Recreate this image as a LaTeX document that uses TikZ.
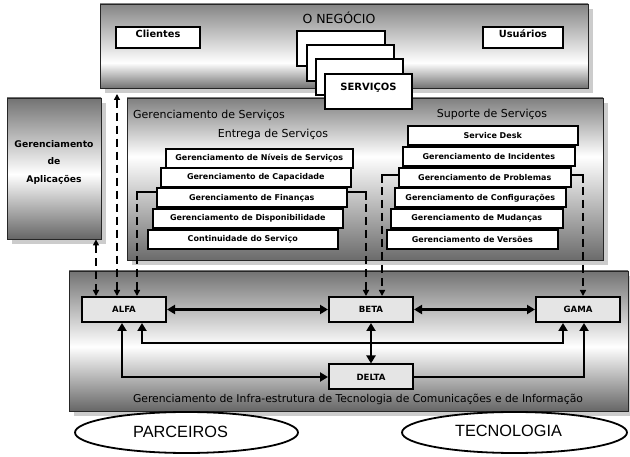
\documentclass[tikz,border=0pt]{standalone}
\usepackage{fontspec}
\setmainfont{DejaVu Sans}
\newfontfamily\tah{DejaVu Sans}
\newfontfamily\ari{Liberation Sans}
\usetikzlibrary{arrows.meta,fit,shapes.geometric}
\pgfdeclareverticalshading{shTop}{100bp}{color(0bp)=(black!55); color(25bp)=(black!55); color(40bp)=(white); color(75bp)=(black!48); color(100bp)=(black!48)}
\pgfdeclareverticalshading{shMid}{100bp}{color(0bp)=(black!58); color(25bp)=(black!58); color(57bp)=(white); color(75bp)=(black!50); color(100bp)=(black!50)}
\pgfdeclareverticalshading{shHalf}{100bp}{color(0bp)=(black!60); color(25bp)=(black!60); color(48bp)=(white); color(75bp)=(black!55); color(100bp)=(black!55)}
\definecolor{shadowc}{gray}{0.8}
\begin{document}
\begin{tikzpicture}[x=1pt,y=-1pt,
  bigbox/.style={draw=black!85,line width=0.9pt,inner sep=0pt},
  wbox/.style={draw=black,fill=white,line width=1.6pt,inner sep=0pt},
  stk/.style={wbox,anchor=north west,minimum height=19pt,font=\tah\bfseries\fontsize{8}{9}\selectfont},
  gbox/.style={draw=black,fill=black!10,line width=2pt,inner sep=0pt,anchor=north west,minimum width=84pt,minimum height=25pt,font=\tah\bfseries\fontsize{8.6}{10}\selectfont},
  ttl/.style={font=\tah\fontsize{11}{13}\selectfont,inner sep=0pt},
  arr/.style={line width=2.6pt,{Triangle[length=8pt,width=9pt]}-{Triangle[length=8pt,width=9pt]}},
  arrone/.style={line width=2.6pt,-{Triangle[length=8pt,width=9pt]}},
  dsh/.style={line width=2.2pt,dash pattern=on 8pt off 5pt},
  solidpart/.style={line width=2.2pt},
  tipd/.style={-{Triangle[length=6pt,width=6pt]}},
  ell/.style={ellipse,draw=black,fill=white,line width=1.8pt,inner sep=0pt},
  elltxt/.style={inner sep=0pt,font=\ari\fontsize{16.3}{19}\selectfont}
]
\useasboundingbox (0,0) rectangle (630,457);
% ---------- top box
\fill[shadowc] (105,9) rectangle (593,93);
\node[bigbox,shading=shTop,fit={(100,4) (588,88)}] (top) {};
\node[font=\tah\fontsize{12.5}{14}\selectfont,inner sep=0pt] (neg) at (339,18) {O NEGÓCIO};
\node[wbox,fit={(116,27) (200,48)},font=\tah\bfseries\fontsize{9.8}{11}\selectfont] (cli) {Clientes};
\node[wbox,fit={(483,27) (563,48)},font=\tah\bfseries\fontsize{9.8}{11}\selectfont] (usu) {Usuários};
% ---------- middle box
\fill[shadowc] (132,103) rectangle (608,265);
\node[bigbox,shading=shMid,fit={(127,98) (603,260)}] (mid) {};
\node[ttl,anchor=west] (gs) at (133,115) {Gerenciamento de Serviços};
\node[ttl] (es) at (273,134) {Entrega de Serviços};
\node[ttl] (ss) at (492,114) {Suporte de Serviços};
% services stack
\node[wbox,fit={(297,31) (385,66)}] (sv1) {};
\node[wbox,fit={(307,45) (394,81)}] (sv2) {};
\node[wbox,fit={(316,59) (403,95)}] (sv3) {};
\node[wbox,fit={(325,74) (412,109)},font=\tah\bfseries\fontsize{10}{11}\selectfont] (serv) {SERVIÇOS};
% ---------- aplicacoes
\fill[shadowc] (12,103) rectangle (106,244);
\node[bigbox,shading=shHalf,fit={(7,98) (101,239)}] (apl) {};
\node[font=\tah\bfseries\fontsize{9.2}{11}\selectfont,inner sep=0pt] (apl1) at (54,144) {Gerenciamento};
\node[font=\tah\bfseries\fontsize{9.2}{11}\selectfont,inner sep=0pt] (apl2) at (54,161) {de};
\node[font=\tah\bfseries\fontsize{9.2}{11}\selectfont,inner sep=0pt] (apl3) at (54,180) {Aplicações};
% left stack
\node[stk,minimum width=187pt] (l1) at (165,148) {Gerenciamento de Níveis de Serviços};
\node[stk,minimum width=190pt] (l2) at (160,167) {Gerenciamento de Capacidade};
\node[stk,minimum width=190pt] (l3) at (156,187.5) {Gerenciamento de Finanças};
\node[stk,minimum width=190pt] (l4) at (152,208) {Gerenciamento de Disponibilidade};
\node[stk,minimum width=190pt] (l5) at (147,229) {Continuidade do Serviço};
% right stack
\node[stk,minimum width=170pt] (r1) at (407,125) {Service Desk};
\node[stk,minimum width=172pt] (r2) at (402,146) {Gerenciamento de Incidentes};
\node[stk,minimum width=172pt] (r3) at (398,167) {Gerenciamento de Problemas};
\node[stk,minimum width=171pt] (r4) at (394,187.5) {Gerenciamento de Configurações};
\node[stk,minimum width=172pt] (r5) at (390,208) {Gerenciamento de Mudanças};
\node[stk,minimum width=171pt] (r6) at (386,229) {Gerenciamento de Versões};
% ---------- bottom box
\fill[shadowc] (74,276) rectangle (633,416);
\node[bigbox,shading=shHalf,fit={(69,271) (628,411)}] (bot) {};
\node[font=\tah\fontsize{10.8}{13}\selectfont,inner sep=0pt] (cap) at (358,399) {Gerenciamento de Infra-estrutura de Tecnologia de Comunicações e de Informação};
\node[gbox] (alfa) at (81,296) {ALFA};
\node[gbox] (beta) at (328,296) {BETA};
\node[gbox] (gama) at (535,296) {GAMA};
\node[gbox] (delta) at (328,363.5) {DELTA};
% ellipses
\node[ell,minimum width=223pt,minimum height=41pt] (par) at (186.5,432.5) {};
\node[elltxt] (partxt) at (180.5,431.5) {PARCEIROS};
\node[ell,minimum width=225pt,minimum height=41pt] (tec) at (514.5,432.5) {};
\node[elltxt] (tectxt) at (508.5,431) {TECNOLOGIA};
% ---------- connectors
\draw[arr] (alfa.east) -- (beta.west);
\draw[arr] (beta.east) -- (gama.west);
\draw[arr] (beta.south) -- (delta.north);
\draw[arr] (142,0 |- alfa.south) -- (142,343) -- (563,343) -- (563,0 |- gama.south);
\draw[arr] (122,0 |- alfa.south) |- (delta.west);
\draw[arrone] (delta.east) -| (584,0 |- gama.south);
% dashed links
\draw[dsh,{Triangle[length=6pt,width=6pt]}-{Triangle[length=6pt,width=6pt]}] (96,0 |- apl.south) -- (96,0 |- alfa.north);
\coordinate (topb) at (117,94);
\draw[dsh,{Triangle[length=6pt,width=6pt]}-{Triangle[length=6pt,width=6pt]}] (topb) -- (117,0 |- alfa.north);
% brackets
\draw[solidpart] (l3.west |- 0,192) -- (137,192) -- (137,200);
\draw[dsh,tipd] (137,204) -- (137,0 |- alfa.north);
\draw[solidpart] (l3.east |- 0,192) -- (366,192) -- (366,200);
\draw[dsh,tipd] (366,204) -- (366,0 |- beta.north);
\draw[solidpart] (r3.west |- 0,175) -- (382,175) -- (382,183);
\draw[dsh,tipd] (382,187) -- (382,0 |- beta.north);
\draw[solidpart] (r3.east |- 0,175) -- (583,175) -- (583,183);
\draw[dsh,tipd] (583,187) -- (583,0 |- gama.north);
\end{tikzpicture}
\end{document}
